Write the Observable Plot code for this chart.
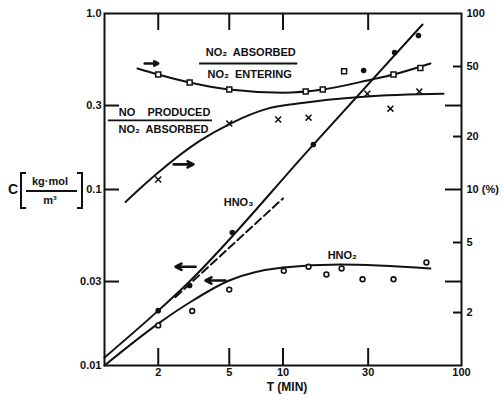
<!DOCTYPE html>
<html><head><meta charset="utf-8">
<script src="https://cdn.jsdelivr.net/npm/d3@7"></script>
<script src="https://cdn.jsdelivr.net/npm/@observablehq/plot@0.6"></script>
<style>body{margin:0;background:#fff}#chart{width:504px;height:395px}</style>
</head><body><div id="chart"></div><script>
// ---- axes / ticks ----
const xTicks = [2, 5, 10, 30, 100];
const xTickLabels = ["2", "5", "10", "30", "100"];
const cTicks = [0.01, 0.03, 0.1, 0.3, 1];
const cTickLabels = ["0.01", "0.03", "0.1", "0.3", "1.0"];
const pctTicks = [2, 5, 10, 20, 50, 100];
const pctTickLabels = ["2", "5", "10 (%)", "20", "50", "100"];
const pctLongTicks = [3, 10, 30];
const pctShortTicks = [2, 5, 20, 50];

// ---- HNO3 (left axis, C) ----
const hno3T = [2, 3, 5.2, 14.8, 28.3, 42.2, 57.4];
const hno3C = [0.0205, 0.0285, 0.057, 0.18, 0.474, 0.60, 0.75];
const hno3FitT = [1, 2, 2.84, 14.8, 60.5];
const hno3FitC = [0.0111, 0.0205, 0.0285, 0.18, 0.866];
const hno3DashT = [2.5, 10];
const hno3DashC = [0.0245, 0.089];

// ---- HNO2 (left axis, C) ----
const hno2T = [2, 3.1, 5, 10.1, 13.9, 17.5, 21.3, 27.9, 41.6, 63.6];
const hno2C = [0.0169, 0.0204, 0.027, 0.0345, 0.0364, 0.0329, 0.0356, 0.0309, 0.0309, 0.0385];
const hno2FitT = [1, 2, 3, 5, 10, 21, 67];
const hno2FitC = [0.0100, 0.0173, 0.0228, 0.0304, 0.036, 0.0375, 0.0356];

// ---- NO2 absorbed / NO2 entering (right axis, %) ----
const absT = [2, 3, 5, 13.4, 16.7, 22, 41.6, 58.8];
const absPct = [45, 40.5, 37, 36, 37, 47, 45, 49];
const absFitT = [1.53, 2, 3, 5, 10, 16.7, 30.9, 41.6, 67];
const absFitPct = [48.7, 45, 40.5, 37, 35.5, 37, 42, 45, 52];

// ---- NO produced / NO2 absorbed (right axis, %) ----
const noT = [2, 5, 9.4, 13.9, 29.7, 40, 58];
const noPct = [11.4, 23.7, 25, 25.6, 35, 28.8, 36];
const noFitT = [1.31, 2, 3.45, 5.08, 8.2, 12.1, 28.3, 79.3];
const noFitPct = [8.5, 12.5, 19, 23.7, 28.8, 30.8, 33.7, 35];

// ---- annotations (data coordinates) ----
const noteText = ["NO₂  ABSORBED", "NO₂  ENTERING", "NO    PRODUCED", "NO₂  ABSORBED", "HNO₃", "HNO₂"];
const noteT = [6.6, 6.5, 2.17, 2.14, 5.63, 21.5];
const noteC = [0.60, 0.45, 0.273, 0.219, 0.084, 0.042];
const barT1 = [3.41, 1.05];
const barT2 = [12.1, 4.03];
const barC = [0.52, 0.247];
const arrowT1 = [1.68, 2.44, 3.24, 4.76];
const arrowT2 = [2.0, 3.15, 2.5, 3.68];
const arrowC = [0.52, 0.139, 0.0364, 0.0304];

const zip = (xs, ys, k = "C") => xs.map((t, i) => ({T: t, [k]: ys[i]}));
const W = 504, H = 395, mL = 104, mR = 43, mT = 13, mB = 30;
const iw = W - mL - mR, ih = H - mT - mB;
const ink = "#111";
const font = "'Liberation Sans', Arial, Helvetica, sans-serif";

const chart = Plot.plot({
  width: W, height: H,
  marginLeft: mL, marginRight: mR, marginTop: mT, marginBottom: mB,
  x: {type: "log", domain: [1, 100]},
  y: {type: "log", domain: [0.01, 1]},
  style: {fontFamily: font, fontWeight: "bold", fontSize: "11px", color: ink, background: "#fff", overflow: "visible"},
  marks: [
    Plot.frame({stroke: ink, strokeWidth: 2}),
    // inward ticks
    Plot.ruleX(xTicks.slice(0, 4), {x: d => d, insetTop: ih - 17, stroke: ink, strokeWidth: 2}),
    Plot.ruleX(xTicks.slice(0, 4), {x: d => d, insetBottom: ih - 17, stroke: ink, strokeWidth: 2}),
    Plot.ruleY(cTicks.slice(1, 4), {y: d => d, insetRight: iw - 15, stroke: ink, strokeWidth: 2}),
    Plot.ruleY(pctLongTicks, {y: d => d / 100, insetLeft: iw - 16, stroke: ink, strokeWidth: 2}),
    Plot.ruleY(pctShortTicks, {y: d => d / 100, insetLeft: iw - 8, stroke: ink, strokeWidth: 2}),
    // tick labels
    Plot.axisX({anchor: "bottom", ticks: xTicks, tickSize: 0, tickPadding: 3, label: null,
      tickFormat: d => xTickLabels[xTicks.indexOf(d)], fontSize: 11}),
    Plot.axisY({anchor: "left", ticks: cTicks, tickSize: 0, tickPadding: 3, label: null,
      tickFormat: d => cTickLabels[cTicks.indexOf(d)], fontSize: 11}),
    Plot.axisY({anchor: "right", ticks: pctTicks.map(p => p / 100), tickSize: 0, tickPadding: 5, label: null,
      tickFormat: d => pctTickLabels[pctTicks.findIndex(p => Math.abs(p / 100 - d) < 1e-9)], fontSize: 11}),
    Plot.text(["T (MIN)"], {frameAnchor: "bottom", dy: 25, dx: 4, fontSize: 12, fill: ink}),
    // fitted curves
    Plot.line(zip(hno3FitT, hno3FitC), {x: "T", y: "C", curve: "monotone-x", stroke: ink, strokeWidth: 2}),
    Plot.line(zip(hno3DashT, hno3DashC), {x: "T", y: "C", stroke: ink, strokeWidth: 2, strokeDasharray: "8,4"}),
    Plot.line(zip(hno2FitT, hno2FitC), {x: "T", y: "C", curve: "monotone-x", stroke: ink, strokeWidth: 2}),
    Plot.line(zip(absFitT, absFitPct, "P"), {x: "T", y: d => d.P / 100, curve: "monotone-x", stroke: ink, strokeWidth: 2}),
    Plot.line(zip(noFitT, noFitPct, "P"), {x: "T", y: d => d.P / 100, curve: "monotone-x", stroke: ink, strokeWidth: 2}),
    // points
    Plot.dot(zip(hno3T, hno3C), {x: "T", y: "C", r: 2.8, fill: ink}),
    Plot.dot(zip(hno2T, hno2C), {x: "T", y: "C", r: 2.4, fill: "#fff", stroke: ink, strokeWidth: 1.6}),
    Plot.dot(zip(absT, absPct, "P"), {x: "T", y: d => d.P / 100, symbol: "square", r: 2.8, fill: "#fff", stroke: ink, strokeWidth: 1.5}),
    Plot.dot(zip(noT, noPct, "P"), {x: "T", y: d => d.P / 100, symbol: "times", r: 2.8, stroke: ink, strokeWidth: 1.5}),
    // annotations
    Plot.text(noteText.map((s, i) => ({s, T: noteT[i], C: noteC[i]})), {x: "T", y: "C", text: "s", fontSize: 11, fill: ink}),
    Plot.ruleY(barC.map((c, i) => ({C: c, T1: barT1[i], T2: barT2[i]})), {y: "C", x1: "T1", x2: "T2", stroke: ink, strokeWidth: 1.8}),
    Plot.arrow(arrowC.map((c, i) => ({C: c, T1: arrowT1[i], T2: arrowT2[i]})), {x1: "T1", x2: "T2", y1: "C", y2: "C",
      stroke: ink, strokeWidth: 2.6, headLength: 7, headAngle: 55})
  ]
});
document.getElementById("chart").appendChild(chart);

// left axis label: C [kg·mol / m³]
const svg = d3.select(chart);
const g = svg.append("g").attr("font-family", font).attr("font-weight", "bold").attr("fill", ink);
g.append("text").attr("x", 13).attr("y", 189).attr("text-anchor", "middle").attr("dominant-baseline", "central").attr("font-size", 14).text("C");
g.append("path").attr("d", "M26,173H21V208H26").attr("fill", "none").attr("stroke", ink).attr("stroke-width", 2);
g.append("path").attr("d", "M77,173H82V208H77").attr("fill", "none").attr("stroke", ink).attr("stroke-width", 2);
g.append("text").attr("x", 50).attr("y", 181).attr("text-anchor", "middle").attr("dominant-baseline", "central").attr("font-size", 11).text("kg·mol");
g.append("line").attr("x1", 26).attr("x2", 77).attr("y1", 191).attr("y2", 191).attr("stroke", ink).attr("stroke-width", 1.8);
g.append("text").attr("x", 50).attr("y", 200).attr("text-anchor", "middle").attr("dominant-baseline", "central").attr("font-size", 11).text("m³");
</script></body></html>
